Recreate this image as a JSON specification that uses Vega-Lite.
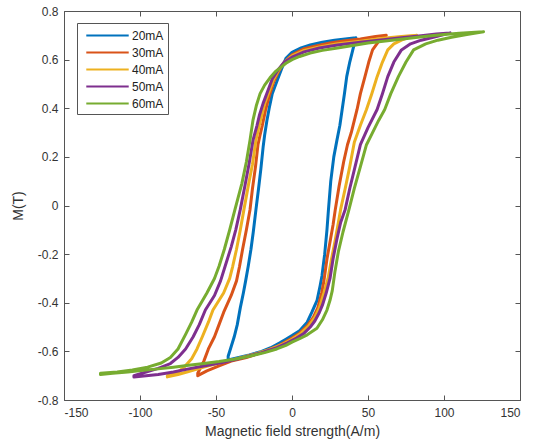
{
"$schema": "https://vega.github.io/schema/vega-lite/v6.json",
"width": 456, "height": 389,
"autosize": {"type": "none"},
"padding": {"left": 64, "top": 11, "right": 19, "bottom": 48},
"background": "white",
"config": {
  "view": {"stroke": "#555", "strokeWidth": 1},
  "font": "Liberation Sans",
  "axis": {"labelFont": "Liberation Sans", "labelFontSize": 12, "labelColor": "#333", "titleFont": "Liberation Sans", "titleFontSize": 14, "titleFontWeight": "normal", "titleColor": "#333", "domain": false, "tickColor": "#555", "tickSize": -5, "grid": false},
  "legend": {"labelFont": "Liberation Sans", "labelFontSize": 12, "labelColor": "#222"}
},
"datasets": {
"loops": [
{"s":"20mA","o":1,"H":42,"M":0.69},{"s":"20mA","o":2,"H":35,"M":0.685},{"s":"20mA","o":3,"H":28,"M":0.68},{"s":"20mA","o":4,"H":20,"M":0.672},{"s":"20mA","o":5,"H":12,"M":0.66},{"s":"20mA","o":6,"H":6,"M":0.648},{"s":"20mA","o":7,"H":0,"M":0.63},{"s":"20mA","o":8,"H":-4,"M":0.605},{"s":"20mA","o":9,"H":-7,"M":0.56},{"s":"20mA","o":10,"H":-10,"M":0.51},{"s":"20mA","o":11,"H":-13,"M":0.46},{"s":"20mA","o":12,"H":-15,"M":0.4},{"s":"20mA","o":13,"H":-16.5,"M":0.35},{"s":"20mA","o":14,"H":-18,"M":0.29},{"s":"20mA","o":15,"H":-19,"M":0.24},{"s":"20mA","o":16,"H":-20.5,"M":0.15},{"s":"20mA","o":17,"H":-22,"M":0.07},{"s":"20mA","o":18,"H":-23.7,"M":-0.016},{"s":"20mA","o":19,"H":-25.5,"M":-0.11},{"s":"20mA","o":20,"H":-27,"M":-0.18},{"s":"20mA","o":21,"H":-28.8,"M":-0.25},{"s":"20mA","o":22,"H":-30.5,"M":-0.31},{"s":"20mA","o":23,"H":-32,"M":-0.36},{"s":"20mA","o":24,"H":-34,"M":-0.42},{"s":"20mA","o":25,"H":-36,"M":-0.49},{"s":"20mA","o":26,"H":-38,"M":-0.54},{"s":"20mA","o":27,"H":-40,"M":-0.58},{"s":"20mA","o":28,"H":-42,"M":-0.62},
{"s":"20mA","o":29,"H":-42,"M":-0.635},{"s":"20mA","o":30,"H":-35,"M":-0.625},{"s":"20mA","o":31,"H":-28,"M":-0.615},{"s":"20mA","o":32,"H":-20,"M":-0.6},{"s":"20mA","o":33,"H":-14,"M":-0.585},{"s":"20mA","o":34,"H":-8,"M":-0.565},{"s":"20mA","o":35,"H":-4,"M":-0.55},{"s":"20mA","o":36,"H":0,"M":-0.535},{"s":"20mA","o":37,"H":5,"M":-0.515},{"s":"20mA","o":38,"H":10,"M":-0.48},{"s":"20mA","o":39,"H":13,"M":-0.44},{"s":"20mA","o":40,"H":16.5,"M":-0.39},{"s":"20mA","o":41,"H":18.5,"M":-0.33},{"s":"20mA","o":42,"H":19.7,"M":-0.29},{"s":"20mA","o":43,"H":21.5,"M":-0.2},{"s":"20mA","o":44,"H":23,"M":-0.1},{"s":"20mA","o":45,"H":24,"M":-0.016},{"s":"20mA","o":46,"H":25.5,"M":0.1},{"s":"20mA","o":47,"H":27.5,"M":0.2},{"s":"20mA","o":48,"H":29.6,"M":0.27},{"s":"20mA","o":49,"H":31.5,"M":0.33},{"s":"20mA","o":50,"H":33,"M":0.395},{"s":"20mA","o":51,"H":34.5,"M":0.46},{"s":"20mA","o":52,"H":36,"M":0.53},{"s":"20mA","o":53,"H":38,"M":0.59},{"s":"20mA","o":54,"H":40,"M":0.64},{"s":"20mA","o":55,"H":42,"M":0.69},

{"s":"30mA","o":1,"H":62,"M":0.7},{"s":"30mA","o":2,"H":55,"M":0.695},{"s":"30mA","o":3,"H":45,"M":0.685},{"s":"30mA","o":4,"H":35,"M":0.678},{"s":"30mA","o":5,"H":25,"M":0.668},{"s":"30mA","o":6,"H":15,"M":0.655},{"s":"30mA","o":7,"H":8,"M":0.645},{"s":"30mA","o":8,"H":0,"M":0.62},{"s":"30mA","o":9,"H":-5,"M":0.59},{"s":"30mA","o":10,"H":-9,"M":0.55},{"s":"30mA","o":11,"H":-12,"M":0.51},{"s":"30mA","o":12,"H":-15,"M":0.45},{"s":"30mA","o":13,"H":-17.5,"M":0.39},{"s":"30mA","o":14,"H":-19.5,"M":0.33},{"s":"30mA","o":15,"H":-21,"M":0.29},{"s":"30mA","o":16,"H":-22.4,"M":0.25},{"s":"30mA","o":17,"H":-24,"M":0.16},{"s":"30mA","o":18,"H":-26,"M":0.07},{"s":"30mA","o":19,"H":-27.6,"M":-0.016},{"s":"30mA","o":20,"H":-30,"M":-0.1},{"s":"30mA","o":21,"H":-32.5,"M":-0.18},{"s":"30mA","o":22,"H":-34.5,"M":-0.25},{"s":"30mA","o":23,"H":-36.5,"M":-0.31},{"s":"30mA","o":24,"H":-40,"M":-0.37},{"s":"30mA","o":25,"H":-45,"M":-0.44},{"s":"30mA","o":26,"H":-48,"M":-0.49},{"s":"30mA","o":27,"H":-51,"M":-0.54},{"s":"30mA","o":28,"H":-55,"M":-0.59},{"s":"30mA","o":29,"H":-58,"M":-0.64},{"s":"30mA","o":30,"H":-62,"M":-0.69},
{"s":"30mA","o":31,"H":-62,"M":-0.7},{"s":"30mA","o":32,"H":-56,"M":-0.68},{"s":"30mA","o":33,"H":-48,"M":-0.66},{"s":"30mA","o":34,"H":-40,"M":-0.64},{"s":"30mA","o":35,"H":-30,"M":-0.625},{"s":"30mA","o":36,"H":-20,"M":-0.605},{"s":"30mA","o":37,"H":-10,"M":-0.58},{"s":"30mA","o":38,"H":-4,"M":-0.56},{"s":"30mA","o":39,"H":0,"M":-0.545},{"s":"30mA","o":40,"H":5,"M":-0.525},{"s":"30mA","o":41,"H":10,"M":-0.495},{"s":"30mA","o":42,"H":14,"M":-0.46},{"s":"30mA","o":43,"H":17,"M":-0.42},{"s":"30mA","o":44,"H":19.5,"M":-0.36},{"s":"30mA","o":45,"H":21,"M":-0.31},{"s":"30mA","o":46,"H":23,"M":-0.22},{"s":"30mA","o":47,"H":25,"M":-0.15},{"s":"30mA","o":48,"H":27,"M":-0.08},{"s":"30mA","o":49,"H":28.5,"M":-0.016},{"s":"30mA","o":50,"H":31,"M":0.08},{"s":"30mA","o":51,"H":34,"M":0.18},{"s":"30mA","o":52,"H":36.5,"M":0.25},{"s":"30mA","o":53,"H":39,"M":0.3},{"s":"30mA","o":54,"H":41,"M":0.35},{"s":"30mA","o":55,"H":42.8,"M":0.395},{"s":"30mA","o":56,"H":45,"M":0.46},{"s":"30mA","o":57,"H":48,"M":0.53},{"s":"30mA","o":58,"H":50.5,"M":0.59},{"s":"30mA","o":59,"H":53,"M":0.64},{"s":"30mA","o":60,"H":57,"M":0.675},{"s":"30mA","o":61,"H":62,"M":0.7},

{"s":"40mA","o":1,"H":82,"M":0.7},{"s":"40mA","o":2,"H":72,"M":0.695},{"s":"40mA","o":3,"H":60,"M":0.688},{"s":"40mA","o":4,"H":45,"M":0.676},{"s":"40mA","o":5,"H":30,"M":0.665},{"s":"40mA","o":6,"H":18,"M":0.652},{"s":"40mA","o":7,"H":8,"M":0.638},{"s":"40mA","o":8,"H":0,"M":0.615},{"s":"40mA","o":9,"H":-5,"M":0.59},{"s":"40mA","o":10,"H":-9,"M":0.555},{"s":"40mA","o":11,"H":-12,"M":0.52},{"s":"40mA","o":12,"H":-15,"M":0.47},{"s":"40mA","o":13,"H":-18,"M":0.42},{"s":"40mA","o":14,"H":-20,"M":0.37},{"s":"40mA","o":15,"H":-21.5,"M":0.33},{"s":"40mA","o":16,"H":-23.7,"M":0.27},{"s":"40mA","o":17,"H":-26,"M":0.17},{"s":"40mA","o":18,"H":-28.5,"M":0.09},{"s":"40mA","o":19,"H":-31.6,"M":-0.016},{"s":"40mA","o":20,"H":-34,"M":-0.1},{"s":"40mA","o":21,"H":-36.5,"M":-0.18},{"s":"40mA","o":22,"H":-39,"M":-0.25},{"s":"40mA","o":23,"H":-41,"M":-0.3},{"s":"40mA","o":24,"H":-45,"M":-0.36},{"s":"40mA","o":25,"H":-52,"M":-0.43},{"s":"40mA","o":26,"H":-55,"M":-0.48},{"s":"40mA","o":27,"H":-59,"M":-0.54},{"s":"40mA","o":28,"H":-62.5,"M":-0.59},{"s":"40mA","o":29,"H":-66,"M":-0.63},{"s":"40mA","o":30,"H":-71,"M":-0.665},{"s":"40mA","o":31,"H":-76,"M":-0.69},{"s":"40mA","o":32,"H":-82,"M":-0.7},
{"s":"40mA","o":33,"H":-82,"M":-0.705},{"s":"40mA","o":34,"H":-75,"M":-0.695},{"s":"40mA","o":35,"H":-68,"M":-0.683},{"s":"40mA","o":36,"H":-58,"M":-0.665},{"s":"40mA","o":37,"H":-48,"M":-0.648},{"s":"40mA","o":38,"H":-38,"M":-0.633},{"s":"40mA","o":39,"H":-25,"M":-0.612},{"s":"40mA","o":40,"H":-15,"M":-0.593},{"s":"40mA","o":41,"H":-6,"M":-0.57},{"s":"40mA","o":42,"H":0,"M":-0.55},{"s":"40mA","o":43,"H":6,"M":-0.525},{"s":"40mA","o":44,"H":11,"M":-0.495},{"s":"40mA","o":45,"H":15,"M":-0.46},{"s":"40mA","o":46,"H":18,"M":-0.42},{"s":"40mA","o":47,"H":21,"M":-0.36},{"s":"40mA","o":48,"H":23.7,"M":-0.3},{"s":"40mA","o":49,"H":26,"M":-0.22},{"s":"40mA","o":50,"H":28.5,"M":-0.14},{"s":"40mA","o":51,"H":30.5,"M":-0.07},{"s":"40mA","o":52,"H":32,"M":-0.016},{"s":"40mA","o":53,"H":35,"M":0.07},{"s":"40mA","o":54,"H":38,"M":0.16},{"s":"40mA","o":55,"H":41,"M":0.26},{"s":"40mA","o":56,"H":45,"M":0.33},{"s":"40mA","o":57,"H":49,"M":0.395},{"s":"40mA","o":58,"H":52.5,"M":0.46},{"s":"40mA","o":59,"H":56,"M":0.53},{"s":"40mA","o":60,"H":59.5,"M":0.59},{"s":"40mA","o":61,"H":63,"M":0.64},{"s":"40mA","o":62,"H":67,"M":0.665},{"s":"40mA","o":63,"H":72,"M":0.68},{"s":"40mA","o":64,"H":77,"M":0.692},{"s":"40mA","o":65,"H":82,"M":0.7},

{"s":"50mA","o":1,"H":104,"M":0.71},{"s":"50mA","o":2,"H":95,"M":0.705},{"s":"50mA","o":3,"H":85,"M":0.698},{"s":"50mA","o":4,"H":72,"M":0.69},{"s":"50mA","o":5,"H":60,"M":0.682},{"s":"50mA","o":6,"H":45,"M":0.672},{"s":"50mA","o":7,"H":30,"M":0.66},{"s":"50mA","o":8,"H":18,"M":0.648},{"s":"50mA","o":9,"H":8,"M":0.632},{"s":"50mA","o":10,"H":0,"M":0.61},{"s":"50mA","o":11,"H":-5,"M":0.59},{"s":"50mA","o":12,"H":-9,"M":0.56},{"s":"50mA","o":13,"H":-13,"M":0.52},{"s":"50mA","o":14,"H":-16,"M":0.47},{"s":"50mA","o":15,"H":-19,"M":0.42},{"s":"50mA","o":16,"H":-21.5,"M":0.37},{"s":"50mA","o":17,"H":-23,"M":0.33},{"s":"50mA","o":18,"H":-25.6,"M":0.27},{"s":"50mA","o":19,"H":-28,"M":0.18},{"s":"50mA","o":20,"H":-31,"M":0.08},{"s":"50mA","o":21,"H":-34,"M":-0.016},{"s":"50mA","o":22,"H":-37,"M":-0.1},{"s":"50mA","o":23,"H":-40,"M":-0.17},{"s":"50mA","o":24,"H":-44,"M":-0.25},{"s":"50mA","o":25,"H":-47,"M":-0.31},{"s":"50mA","o":26,"H":-51,"M":-0.37},{"s":"50mA","o":27,"H":-57,"M":-0.43},{"s":"50mA","o":28,"H":-61,"M":-0.49},{"s":"50mA","o":29,"H":-65,"M":-0.54},{"s":"50mA","o":30,"H":-70,"M":-0.59},{"s":"50mA","o":31,"H":-75,"M":-0.625},{"s":"50mA","o":32,"H":-80,"M":-0.65},{"s":"50mA","o":33,"H":-88,"M":-0.67},{"s":"50mA","o":34,"H":-96,"M":-0.685},{"s":"50mA","o":35,"H":-104,"M":-0.7},
{"s":"50mA","o":36,"H":-104,"M":-0.705},{"s":"50mA","o":37,"H":-96,"M":-0.7},{"s":"50mA","o":38,"H":-88,"M":-0.695},{"s":"50mA","o":39,"H":-78,"M":-0.685},{"s":"50mA","o":40,"H":-68,"M":-0.672},{"s":"50mA","o":41,"H":-58,"M":-0.66},{"s":"50mA","o":42,"H":-45,"M":-0.645},{"s":"50mA","o":43,"H":-32,"M":-0.625},{"s":"50mA","o":44,"H":-20,"M":-0.605},{"s":"50mA","o":45,"H":-10,"M":-0.585},{"s":"50mA","o":46,"H":-3,"M":-0.565},{"s":"50mA","o":47,"H":3,"M":-0.545},{"s":"50mA","o":48,"H":8,"M":-0.525},{"s":"50mA","o":49,"H":12,"M":-0.5},{"s":"50mA","o":50,"H":15,"M":-0.475},{"s":"50mA","o":51,"H":18,"M":-0.44},{"s":"50mA","o":52,"H":20,"M":-0.41},{"s":"50mA","o":53,"H":22.5,"M":-0.36},{"s":"50mA","o":54,"H":25,"M":-0.3},{"s":"50mA","o":55,"H":27,"M":-0.22},{"s":"50mA","o":56,"H":29.5,"M":-0.14},{"s":"50mA","o":57,"H":32,"M":-0.07},{"s":"50mA","o":58,"H":35,"M":-0.016},{"s":"50mA","o":59,"H":38,"M":0.07},{"s":"50mA","o":60,"H":41.5,"M":0.16},{"s":"50mA","o":61,"H":45,"M":0.25},{"s":"50mA","o":62,"H":50,"M":0.32},{"s":"50mA","o":63,"H":56,"M":0.395},{"s":"50mA","o":64,"H":59.5,"M":0.46},{"s":"50mA","o":65,"H":63,"M":0.53},{"s":"50mA","o":66,"H":67,"M":0.59},{"s":"50mA","o":67,"H":72,"M":0.64},{"s":"50mA","o":68,"H":78,"M":0.665},{"s":"50mA","o":69,"H":85,"M":0.68},{"s":"50mA","o":70,"H":95,"M":0.695},{"s":"50mA","o":71,"H":104,"M":0.71},

{"s":"60mA","o":1,"H":126,"M":0.715},{"s":"60mA","o":2,"H":118,"M":0.712},{"s":"60mA","o":3,"H":110,"M":0.708},{"s":"60mA","o":4,"H":100,"M":0.703},{"s":"60mA","o":5,"H":90,"M":0.697},{"s":"60mA","o":6,"H":80,"M":0.69},{"s":"60mA","o":7,"H":70,"M":0.683},{"s":"60mA","o":8,"H":60,"M":0.676},{"s":"60mA","o":9,"H":50,"M":0.668},{"s":"60mA","o":10,"H":40,"M":0.658},{"s":"60mA","o":11,"H":30,"M":0.648},{"s":"60mA","o":12,"H":20,"M":0.638},{"s":"60mA","o":13,"H":12,"M":0.627},{"s":"60mA","o":14,"H":5,"M":0.613},{"s":"60mA","o":15,"H":0,"M":0.6},{"s":"60mA","o":16,"H":-4,"M":0.585},{"s":"60mA","o":17,"H":-8,"M":0.565},{"s":"60mA","o":18,"H":-11,"M":0.55},{"s":"60mA","o":19,"H":-14.5,"M":0.525},{"s":"60mA","o":20,"H":-18,"M":0.495},{"s":"60mA","o":21,"H":-21,"M":0.46},{"s":"60mA","o":22,"H":-23.5,"M":0.41},{"s":"60mA","o":23,"H":-25.7,"M":0.35},{"s":"60mA","o":24,"H":-27.6,"M":0.27},{"s":"60mA","o":25,"H":-30,"M":0.18},{"s":"60mA","o":26,"H":-33,"M":0.09},{"s":"60mA","o":27,"H":-37.5,"M":-0.016},{"s":"60mA","o":28,"H":-41,"M":-0.1},{"s":"60mA","o":29,"H":-44.5,"M":-0.18},{"s":"60mA","o":30,"H":-48,"M":-0.25},{"s":"60mA","o":31,"H":-51,"M":-0.3},{"s":"60mA","o":32,"H":-56,"M":-0.36},{"s":"60mA","o":33,"H":-62.5,"M":-0.43},{"s":"60mA","o":34,"H":-66,"M":-0.48},{"s":"60mA","o":35,"H":-70,"M":-0.53},{"s":"60mA","o":36,"H":-75,"M":-0.59},{"s":"60mA","o":37,"H":-80,"M":-0.625},{"s":"60mA","o":38,"H":-86,"M":-0.648},{"s":"60mA","o":39,"H":-95,"M":-0.665},{"s":"60mA","o":40,"H":-105,"M":-0.677},{"s":"60mA","o":41,"H":-115,"M":-0.685},{"s":"60mA","o":42,"H":-126,"M":-0.69},
{"s":"60mA","o":43,"H":-126,"M":-0.695},{"s":"60mA","o":44,"H":-118,"M":-0.69},{"s":"60mA","o":45,"H":-108,"M":-0.685},{"s":"60mA","o":46,"H":-98,"M":-0.678},{"s":"60mA","o":47,"H":-88,"M":-0.672},{"s":"60mA","o":48,"H":-78,"M":-0.665},{"s":"60mA","o":49,"H":-68,"M":-0.657},{"s":"60mA","o":50,"H":-58,"M":-0.65},{"s":"60mA","o":51,"H":-48,"M":-0.642},{"s":"60mA","o":52,"H":-38,"M":-0.632},{"s":"60mA","o":53,"H":-28,"M":-0.62},{"s":"60mA","o":54,"H":-18,"M":-0.605},{"s":"60mA","o":55,"H":-10,"M":-0.59},{"s":"60mA","o":56,"H":-4,"M":-0.575},{"s":"60mA","o":57,"H":0,"M":-0.562},{"s":"60mA","o":58,"H":5,"M":-0.548},{"s":"60mA","o":59,"H":10,"M":-0.532},{"s":"60mA","o":60,"H":16.4,"M":-0.505},{"s":"60mA","o":61,"H":20,"M":-0.47},{"s":"60mA","o":62,"H":23,"M":-0.43},{"s":"60mA","o":63,"H":25,"M":-0.39},{"s":"60mA","o":64,"H":26.5,"M":-0.35},{"s":"60mA","o":65,"H":28.3,"M":-0.27},{"s":"60mA","o":66,"H":30.5,"M":-0.19},{"s":"60mA","o":67,"H":33.5,"M":-0.11},{"s":"60mA","o":68,"H":37.5,"M":-0.016},{"s":"60mA","o":69,"H":41,"M":0.07},{"s":"60mA","o":70,"H":45,"M":0.16},{"s":"60mA","o":71,"H":49,"M":0.25},{"s":"60mA","o":72,"H":53,"M":0.3},{"s":"60mA","o":73,"H":57,"M":0.35},{"s":"60mA","o":74,"H":61,"M":0.395},{"s":"60mA","o":75,"H":65,"M":0.46},{"s":"60mA","o":76,"H":70,"M":0.53},{"s":"60mA","o":77,"H":75,"M":0.59},{"s":"60mA","o":78,"H":80,"M":0.64},{"s":"60mA","o":79,"H":88,"M":0.665},{"s":"60mA","o":80,"H":96,"M":0.68},{"s":"60mA","o":81,"H":105,"M":0.692},{"s":"60mA","o":82,"H":115,"M":0.703},{"s":"60mA","o":83,"H":126,"M":0.715}
],
"corners": [{"H": -150, "M": -0.8}, {"H": 150, "M": 0.8}]
},
"layer": [
  {
    "data": {"name": "loops"},
    "mark": {"type": "line", "strokeWidth": 3, "strokeJoin": "round", "strokeCap": "round"},
    "encoding": {
      "x": {"field": "H", "type": "quantitative", "scale": {"domain": [-150, 150], "nice": false, "zero": false},
            "axis": {"orient": "bottom", "values": [-150, -100, -50, 0, 50, 100, 150], "labelExpr": "toString(datum.value)", "title": "Magnetic field strength(A/m)", "labelPadding": 12, "titlePadding": 6}},
      "y": {"field": "M", "type": "quantitative", "scale": {"domain": [-0.8, 0.8], "nice": false, "zero": false},
            "axis": {"orient": "left", "values": [-0.8, -0.6, -0.4, -0.2, 0, 0.2, 0.4, 0.6, 0.8], "labelExpr": "toString(datum.value)", "title": "M(T)", "labelPadding": 11, "titlePadding": 12}},
      "color": {"field": "s", "type": "nominal",
                "scale": {"domain": ["20mA", "30mA", "40mA", "50mA", "60mA"], "range": ["#0072BD", "#D95319", "#EDB120", "#7E2F8E", "#77AC30"]},
                "legend": {"title": null, "orient": "none", "legendX": 13, "legendY": 12, "symbolType": "M-3,0H3", "symbolSize": 200, "symbolStrokeWidth": 2, "symbolOffset": 18, "labelOffset": 16, "padding": 4, "rowPadding": 2, "strokeColor": "#555", "fillColor": "white"}},
      "order": {"field": "o", "type": "quantitative"}
    }
  },
  {
    "data": {"name": "corners"},
    "mark": {"type": "point", "opacity": 0},
    "encoding": {
      "x": {"field": "H", "type": "quantitative", "axis": {"orient": "top", "values": [-150, -100, -50, 0, 50, 100, 150], "labels": false, "title": null}},
      "y": {"field": "M", "type": "quantitative", "axis": {"orient": "right", "values": [-0.8, -0.6, -0.4, -0.2, 0, 0.2, 0.4, 0.6, 0.8], "labels": false, "title": null}}
    }
  }
],
"resolve": {"axis": {"x": "independent", "y": "independent"}}
}
